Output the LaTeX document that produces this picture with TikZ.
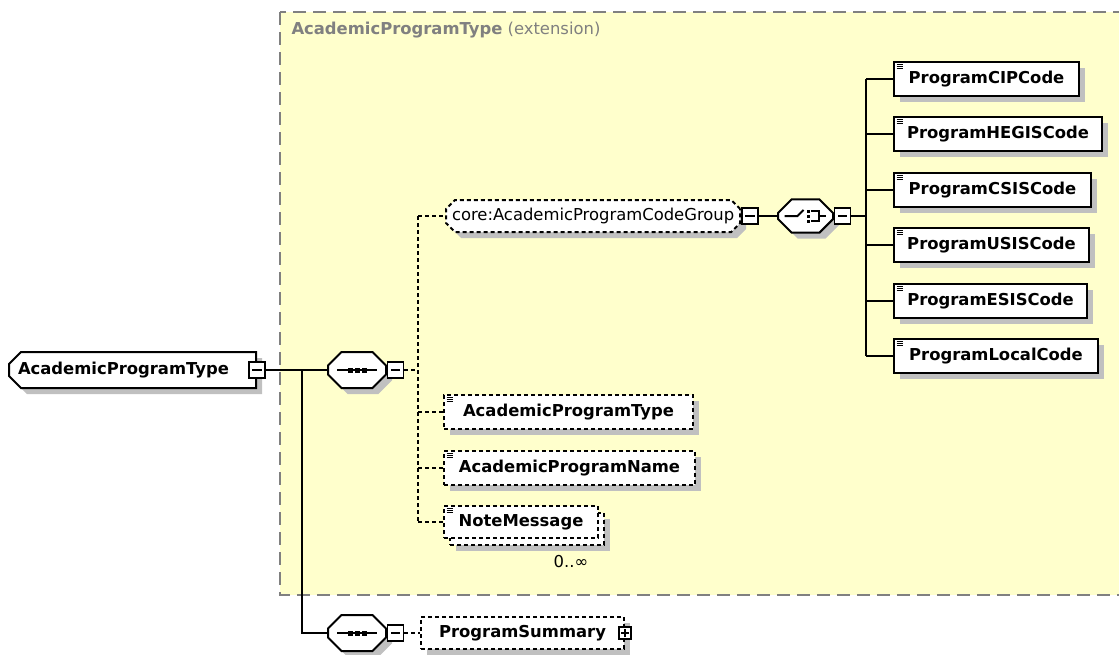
\documentclass[tikz,border=0pt]{standalone}
\usepackage{fontspec}
\setmainfont{DejaVu Sans}
\usetikzlibrary{shapes.misc,shadows,positioning}

\definecolor{extyellow}{RGB}{255,255,204}
\definecolor{extgray}{RGB}{128,128,128}
\definecolor{shadowgray}{RGB}{192,192,192}

\tikzset{every picture/.style={line width=0.75pt}}
\tikzset{
  boxshadow/.style={drop shadow={shadow xshift=4.5pt,shadow yshift=-4.5pt,fill=shadowgray,opacity=1}},
  xsdbox/.style={draw,fill=white,line width=1.5pt,inner sep=0pt,anchor=west,
    font=\fontsize{12.3}{14}\selectfont},
  elembox/.style={xsdbox,boxshadow,font=\bfseries\fontsize{12.3}{14}\selectfont,minimum height=25.5pt},
  optbox/.style={elembox,dash pattern=on 3pt off 2.25pt},
  notebox/.style={xsdbox,font=\bfseries\fontsize{12.3}{14}\selectfont,minimum height=24pt,
    dash pattern=on 3pt off 2.25pt,
    drop shadow={shadow xshift=9pt,shadow yshift=-9.75pt,fill=shadowgray,opacity=1},
    general shadow={shadow xshift=4.5pt,shadow yshift=-5.25pt,fill=white,draw=black,
      line width=1.5pt,dash pattern=on 3pt off 2.25pt}},
  rootbox/.style={xsdbox,boxshadow,font=\bfseries\fontsize{12.3}{14}\selectfont,
    chamfered rectangle,chamfered rectangle corners={north west,south west},
    chamfered rectangle xsep=6pt,chamfered rectangle ysep=3pt,
    text height=9pt,text depth=3pt,inner ysep=4.5pt,inner xsep=0.75pt,align=left},
  groupbox/.style={xsdbox,boxshadow,dash pattern=on 3pt off 2.25pt,chamfered rectangle,
    chamfered rectangle xsep=4.5pt,chamfered rectangle ysep=2.25pt,
    text height=9pt,text depth=3pt,inner ysep=3.75pt,inner xsep=0pt},
  compbox/.style={xsdbox,boxshadow,chamfered rectangle,chamfered rectangle xsep=6.75pt,
    chamfered rectangle ysep=3.4pt},
  btn/.style={draw,fill=white,line width=1pt,inner sep=0pt,minimum size=12pt},
  minusbtn/.style={btn,path picture={\draw[line width=0.8pt]
    ([xshift=2.5pt]path picture bounding box.west) -- ([xshift=-2.5pt]path picture bounding box.east);}},
  plusbtn/.style={btn,minimum size=9pt,path picture={\draw[line width=0.8pt]
    ([xshift=1.5pt]path picture bounding box.west) -- ([xshift=-1.5pt]path picture bounding box.east)
    ([yshift=1.5pt]path picture bounding box.south) -- ([yshift=-1.5pt]path picture bounding box.north);}},
  optline/.style={dash pattern=on 3pt off 2.25pt,line width=1.5pt},
  conn/.style={line width=1.5pt},
}

\begin{document}
\begin{tikzpicture}[x=0.75pt,y=0.75pt,yscale=-1,xscale=1]
\useasboundingbox (0,0) rectangle (1119,654);

%Shape: Extension area
\draw [extgray, fill=extyellow, line width=1.1pt, dash pattern=on 10pt off 5pt] (280,12) rectangle (1140,595);
% Text Node
\node [anchor=west, inner sep=0.75pt, text=extgray, font=\fontsize{12.3}{14}\selectfont] (exttitle) at (290,30) {\textbf{AcademicProgramType} (extension)};

% Root element
\node [rootbox, text width=171.75pt] (root) at (8,370) {AcademicProgramType};
\node [minusbtn] (rootm) at (root.east) {};

% Sequences
\node [compbox, inner xsep=15pt, inner ysep=10.1pt] (seqa) at (327,370) {};
\node [minusbtn, anchor=west] (seqam) at (seqa.east) {};
\node [compbox, inner xsep=15pt, inner ysep=10.1pt] (seqb) at (327,633) {};
\node [minusbtn, anchor=west] (seqbm) at (seqb.east) {};

% Group and choice
\node [groupbox] (group) at (445,216) {core:AcademicProgramCodeGroup};
\node [minusbtn, anchor=west] (groupm) at (group.east) {};
\node [compbox, inner xsep=13.9pt, inner ysep=9pt] (choice) at (777,216) {};
\node [minusbtn, anchor=west] (choicem) at (choice.east) {};

% Choice elements
\node [elembox, minimum width=138.75pt] (cip) at (893,79) {ProgramCIPCode};
\node [elembox, minimum width=156pt] (hegis) at (893,134) {ProgramHEGISCode};
\node [elembox, minimum width=147.75pt] (csis) at (893,190) {ProgramCSISCode};
\node [elembox, minimum width=146.25pt] (usis) at (893,245) {ProgramUSISCode};
\node [elembox, minimum width=144.75pt] (esis) at (893,301) {ProgramESISCode};
\node [elembox, minimum width=153pt] (local) at (893,356) {ProgramLocalCode};

% Optional elements
\node [optbox, minimum width=186.75pt] (aptype) at (443,412) {AcademicProgramType};
\node [optbox, minimum width=188.25pt] (apname) at (443,468) {AcademicProgramName};
\node [notebox, minimum width=115.5pt] (note) at (443,522) {NoteMessage};
% Text Node
\node [anchor=north, inner sep=0.75pt, font=\fontsize{12.3}{14}\selectfont] (noteocc) at (571,554) {0..∞};

\node [optbox, minimum width=152.25pt, minimum height=24pt] (summary) at (420,633) {ProgramSummary};
\node [plusbtn] (summaryp) at (summary.east) {};

% Connectors
\coordinate (split) at (302,370);
\coordinate (seqfork) at (418,370);
\coordinate (choicefork) at (866,216);
\draw [conn] (rootm.east) -- (seqa.west);
\draw [conn] (split) |- (seqb.west);
\draw [optline] (seqam.east) -- (seqfork);
\draw [optline] (seqfork |- group.west) -- (seqfork |- note.west);
\foreach \n in {group,aptype,apname,note}
  \draw [optline] (seqfork |- \n.west) -- (\n.west);
\draw [conn] (groupm.east) -- (choice.west);
\draw [conn] (choicem.east) -- (choicefork);
\draw [conn] (choicefork |- cip.west) -- (choicefork |- local.west);
\foreach \n in {cip,hegis,csis,usis,esis,local}
  \draw [conn] (choicefork |- \n.west) -- (\n.west);
\draw [optline] (seqbm.east) -- (summary.west);

% Element icons
\foreach \n in {cip,hegis,csis,usis,esis,local,aptype,apname,note}
  \foreach \k in {0,1,2}
    \draw [line width=0.75pt, shift={(\n.north west)}] (3.5,{3.5+2*\k}) -- ++(6,0);

% Compositor icons
\foreach \n in {seqa,seqb} {
  \draw [conn, shift={(\n.center)}] (-20,0) -- (20,0);
  \foreach \d in {-7,0,7}
    \fill [shift={(\n.center)}] (\d-2.5,-2.5) rectangle ++(5,5);
}
\draw [conn, shift={(choice.center)}] (-21,0) -- (-8,0) -- (-2,-6);
\foreach \d in {-5,0,5}
  \fill [shift={(choice.center)}] (1,\d-1.5) rectangle ++(3,3);
\draw [conn, shift={(choice.center)}] (5,-5) -- (13,-5) -- (13,5) -- (5,5) (13,0) -- (20,0);
\end{tikzpicture}
\end{document}
